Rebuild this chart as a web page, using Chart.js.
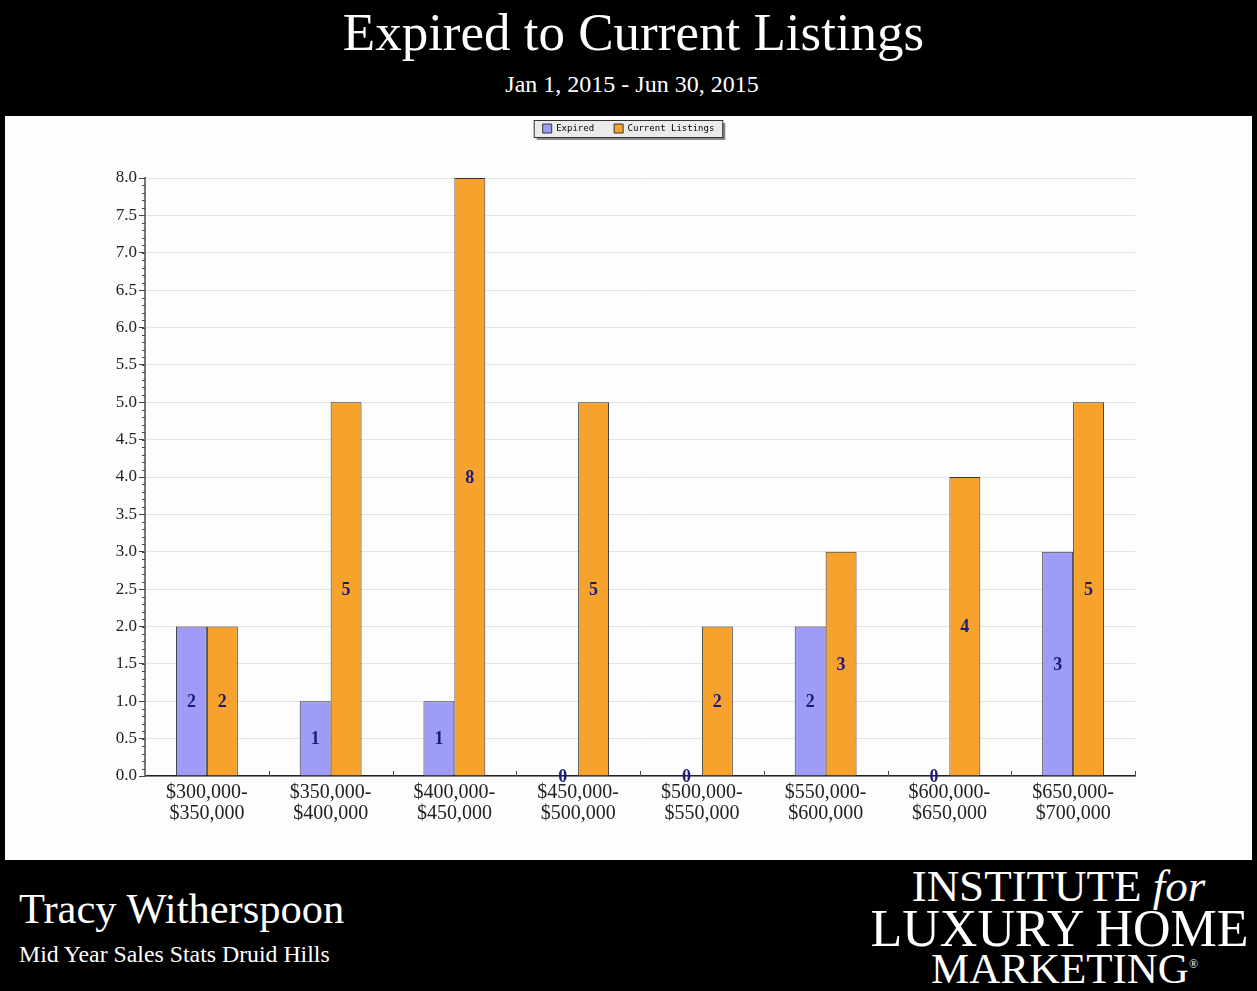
<!DOCTYPE html>
<html>
<head>
<meta charset="utf-8">
<script src="https://cdn.jsdelivr.net/npm/chart.js@4"></script>
<style>
  body { margin: 0; background: #000; width: 1257px; height: 991px; overflow: hidden; position: relative; font-family: 'Liberation Serif', 'DejaVu Serif', serif; color: #fff; }
  .title { position: absolute; left: 0; width: 1267px; top: 2px; text-align: center; font-size: 53px; }
  .sub { position: absolute; left: 0; width: 1264px; top: 71px; text-align: center; font-size: 24px; }
  .panel { position: absolute; left: 5px; top: 116px; width: 1247px; height: 744px; background: #fcfdfc; }
  .name { position: absolute; left: 19px; top: 884px; font-size: 42.5px; }
  .stats { position: absolute; left: 19px; top: 941px; font-size: 23.8px; }
  .logo { position: absolute; left: 862px; top: 864px; width: 395px; text-align: center; line-height: 1; }
  .logo div { white-space: nowrap; }
</style>
</head>
<body>
<div class="title">Expired to Current Listings</div>
<div class="sub">Jan 1, 2015 - Jun 30, 2015</div>
<div class="panel"><canvas id="myChart" width="1247" height="744"></canvas></div>
<div class="name">Tracy Witherspoon</div>
<div class="stats">Mid Year Sales Stats Druid Hills</div>
<div class="logo">
  <div style="font-size:45px;margin-left:-2px">INSTITUTE <i>for</i></div>
  <div style="font-size:52px;margin-top:-6px">LUXURY HOME</div>
  <div style="font-size:43px;margin-top:-8px;margin-left:10px">MARKETING<sup style="font-size:12px">®</sup></div>
</div>
<script>
const categories = [
  ['$300,000-', '$350,000'],
  ['$350,000-', '$400,000'],
  ['$400,000-', '$450,000'],
  ['$450,000-', '$500,000'],
  ['$500,000-', '$550,000'],
  ['$550,000-', '$600,000'],
  ['$600,000-', '$650,000'],
  ['$650,000-', '$700,000'],
];
const expired = [2, 1, 1, 0, 0, 2, 0, 3];
const currentListings = [2, 5, 8, 5, 2, 3, 4, 5];
const yMin = 0;
const yMax = 8;
const yStep = 0.5;
const yMinorStep = 0.1;

const serif = "'Liberation Serif', 'DejaVu Serif', serif";
const legendPad = 20;

// legend takes the whole band above the plot, plus a box + shadow behind it
const legendBox = {
  id: 'legendBox',
  afterInit(chart) {
    const lg = chart.legend;
    const fit = lg.fit.bind(lg);
    lg.fit = function () {
      fit();
      this.height = 62 + legendPad - 8;
    };
  },
  beforeDraw(chart) {
    const lg = chart.legend;
    if (!lg || !lg.legendHitBoxes.length) return;
    const hb = lg.legendHitBoxes;
    const x1 = hb[0].left - 9;
    const x2 = hb[hb.length - 1].left + hb[hb.length - 1].width + 8;
    const y1 = hb[0].top - 4;
    const y2 = hb[0].top + hb[0].height + 4;
    const ctx = chart.ctx;
    ctx.save();
    ctx.fillStyle = '#8a8a8a';
    ctx.fillRect(x1 + 3, y1 + 3, x2 - x1, y2 - y1);
    ctx.fillStyle = '#ebebeb';
    ctx.fillRect(x1, y1, x2 - x1, y2 - y1);
    ctx.strokeStyle = '#333';
    ctx.lineWidth = 1;
    ctx.strokeRect(x1 + 0.5, y1 + 0.5, x2 - x1, y2 - y1);
    ctx.restore();
  }
};

// minor ticks on y, inner ticks on x, value labels
const extras = {
  id: 'extras',
  afterDatasetsDraw(chart) {
    const ctx = chart.ctx;
    const y = chart.scales.y;
    const area = chart.chartArea;
    ctx.save();
    ctx.strokeStyle = '#444';
    ctx.lineWidth = 1;
    for (let v = yMin; v <= yMax + 0.001; v += yMinorStep) {
      const py = Math.round(y.getPixelForValue(v)) + 0.5;
      ctx.beginPath();
      ctx.moveTo(area.left - 3, py);
      ctx.lineTo(area.left, py);
      ctx.stroke();
    }
    const w = (area.right - area.left) / categories.length;
    for (let i = 1; i <= categories.length; i++) {
      const px = Math.round(area.left + w * i) + 0.5;
      ctx.beginPath();
      ctx.moveTo(px, area.bottom);
      ctx.lineTo(px, area.bottom - 5);
      ctx.stroke();
    }
    ctx.fillStyle = '#1b1b7e';
    ctx.font = 'bold 18px ' + serif;
    ctx.textAlign = 'center';
    ctx.textBaseline = 'middle';
    chart.data.datasets.forEach((ds, di) => {
      const meta = chart.getDatasetMeta(di);
      meta.data.forEach((bar, i) => {
        const val = ds.data[i];
        ctx.fillText(String(val), bar.x, y.getPixelForValue(val / 2) + 1);
      });
    });
    ctx.restore();
  }
};

const ctx = document.getElementById('myChart').getContext('2d');
new Chart(ctx, {
  type: 'bar',
  data: {
    labels: categories,
    datasets: [{
      label: 'Expired',
      data: expired,
      backgroundColor: '#9e9cf6',
      borderColor: '#333',
      borderWidth: 1
    }, {
      label: 'Current Listings',
      data: currentListings,
      backgroundColor: '#f8a22e',
      borderColor: '#333',
      borderWidth: 1
    }]
  },
  options: {
    responsive: false,
    animation: false,
    layout: { padding: { left: 0, right: 0, top: 8 - legendPad, bottom: 0 } },
    categoryPercentage: 0.5,
    barPercentage: 1.0,
    plugins: {
      legend: {
        position: 'top',
        labels: {
          boxWidth: 9,
          boxHeight: 9,
          padding: legendPad,
          color: '#222',
          font: { family: "'DejaVu Sans Mono', monospace", size: 9 },
          generateLabels(chart) {
            return chart.data.datasets.map((ds, i) => ({
              text: ds.label,
              fillStyle: ds.backgroundColor,
              strokeStyle: '#333',
              lineWidth: 1,
              datasetIndex: i
            }));
          }
        }
      },
      tooltip: { enabled: false }
    },
    scales: {
      x: {
        grid: { display: false, drawTicks: false },
        border: { color: '#222', width: 1.5 },
        ticks: { color: '#222', font: { family: serif, size: 20, lineHeight: 1.05 }, padding: 6, maxRotation: 0 },
        afterFit(scale) { scale.height = 84; }
      },
      y: {
        min: yMin,
        max: yMax,
        grid: { color: '#e4e4e4', tickColor: '#444', tickLength: 6 },
        border: { color: '#777', width: 2 },
        ticks: {
          stepSize: yStep,
          color: '#222',
          padding: 2,
          font: { family: serif, size: 17 },
          callback: (v) => Number(v).toFixed(1)
        },
        afterFit(scale) { scale.width = 140; }
      },
      // empty band on the right so the plot ends where the reference does
      yRight: {
        position: 'right',
        min: yMin,
        max: yMax,
        grid: { display: false, drawTicks: false },
        border: { display: false },
        ticks: { display: false },
        afterFit(scale) { scale.width = 117; }
      }
    }
  },
  plugins: [legendBox, extras]
});
</script>
</body>
</html>
